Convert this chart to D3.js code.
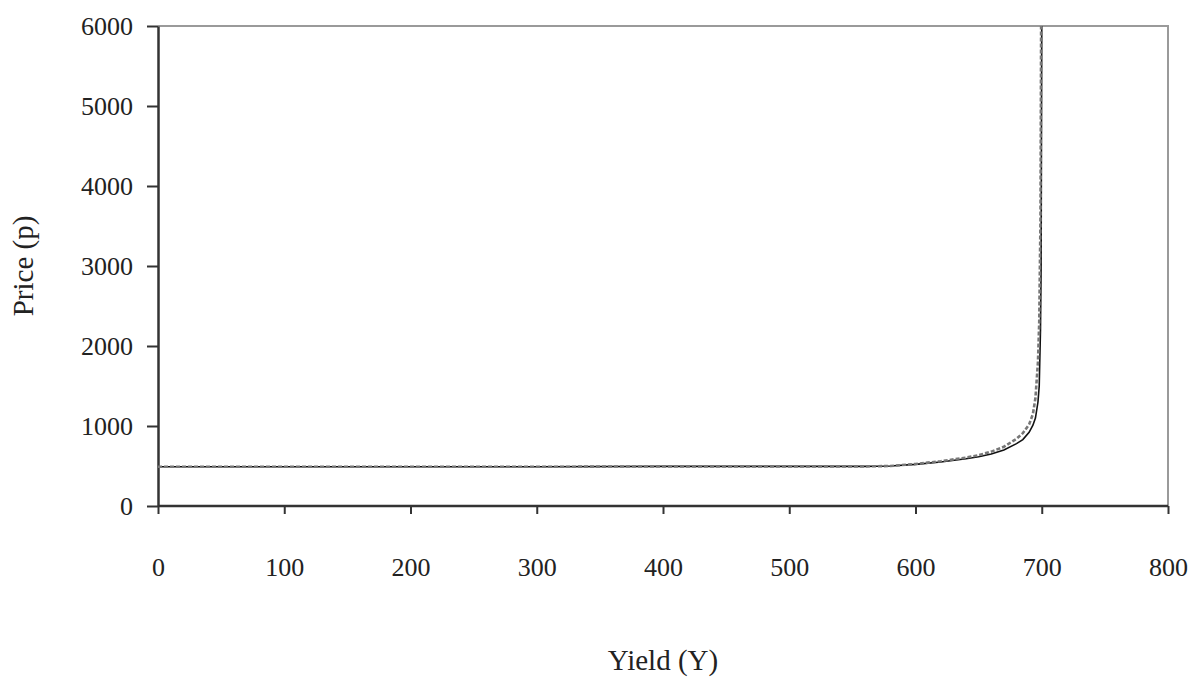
<!DOCTYPE html>
<html>
<head>
<meta charset="utf-8">
<script src="https://cdn.jsdelivr.net/npm/d3@7"></script>
<style>
  body { margin: 0; background: #fff; }
  text { font-family: "Liberation Serif", "DejaVu Serif", serif; fill: #222; }
</style>
</head>
<body>
<script>
// yield values (Y) and prices (p)
const yieldSolid = [0, 100, 200, 300, 400, 500, 560, 580, 600, 620, 640, 650, 660, 670, 680, 685, 690, 693, 695, 697, 698, 699, 699.5, 700];
const priceSolid = [490, 490, 490, 490, 495, 495, 495, 500, 520, 550, 590, 615, 650, 700, 780, 830, 920, 1010, 1100, 1300, 1500, 2200, 3000, 6000];

const yieldDashed = [0, 100, 200, 300, 400, 500, 560, 580, 600, 620, 640, 650, 660, 670, 680, 685, 690, 693, 695, 697, 698, 699, 699.5];
const priceDashed = [490, 490, 490, 490, 495, 495, 495, 500, 525, 560, 605, 635, 680, 740, 840, 910, 1020, 1150, 1350, 1800, 2300, 3600, 6000];

const xTicks = [0, 100, 200, 300, 400, 500, 600, 700, 800];
const yTicks = [0, 1000, 2000, 3000, 4000, 5000, 6000];

const W = 1200, H = 677;
const plotLeft = 158, plotRight = 1168, plotTop = 26, plotBottom = 506;

const svg = d3.select("body").append("svg")
    .attr("width", W)
    .attr("height", H)

const x = d3.scaleLinear().domain([0, 800]).range([plotLeft, plotRight]);
const y = d3.scaleLinear().domain([0, 6000]).range([plotBottom, plotTop]);

// top and right frame, light grey
svg.append("path")
    .attr("d", `M${plotLeft},${plotTop}H${plotRight}V${plotBottom}`)
    .attr("fill", "none")
    .attr("stroke", "#9a9a9a")
    .attr("stroke-width", 2)

const xAxis = svg.append("g")
    .attr("transform", `translate(0,${plotBottom})`)
    .call(d3.axisBottom(x).tickValues(xTicks).tickFormat(d3.format("d")).tickSize(8).tickPadding(44).tickSizeOuter(0))
const yAxis = svg.append("g")
    .attr("transform", `translate(${plotLeft},0)`)
    .call(d3.axisLeft(y).tickValues(yTicks).tickFormat(d3.format("d")).tickSize(11).tickPadding(14).tickSizeOuter(0))

;[xAxis, yAxis].forEach(function(a){
    a.select(".domain").attr("stroke", "#333").attr("stroke-width", 2.5)
    a.selectAll(".tick line").attr("stroke", "#333").attr("stroke-width", 2)
    a.selectAll(".tick text")
        .attr("font-family", '"Liberation Serif", serif')
        .attr("font-size", 26)
        .attr("fill", "#2a2a2a")
})
xAxis.select(".domain").attr("d", `M${plotLeft},0H${plotRight}`)

const line = d3.line()
    .x(d => x(d[0]))
    .y(d => y(d[1]))

const solid = yieldSolid.map((v, i) => [v, priceSolid[i]]);
const dashed = yieldDashed.map((v, i) => [v, priceDashed[i]]);

svg.append("path")
    .datum(solid)
    .attr("d", line)
    .attr("fill", "none")
    .attr("stroke", "#111")
    .attr("stroke-width", 1.6)

svg.append("path")
    .datum(dashed)
    .attr("d", line)
    .attr("fill", "none")
    .attr("stroke", "#777")
    .attr("stroke-width", 2.6)
    .attr("stroke-dasharray", "4,2")

// axis titles
svg.append("text")
    .text("Yield (Y)")
    .attr("x", (plotLeft + plotRight) / 2)
    .attr("y", 670)
    .attr("text-anchor", "middle")
    .attr("font-size", 29)

svg.append("text")
    .text("Price (p)")
    .attr("transform", `translate(33,${(plotTop + plotBottom) / 2}) rotate(-90)`)
    .attr("text-anchor", "middle")
    .attr("font-size", 29)
</script>
</body>
</html>
